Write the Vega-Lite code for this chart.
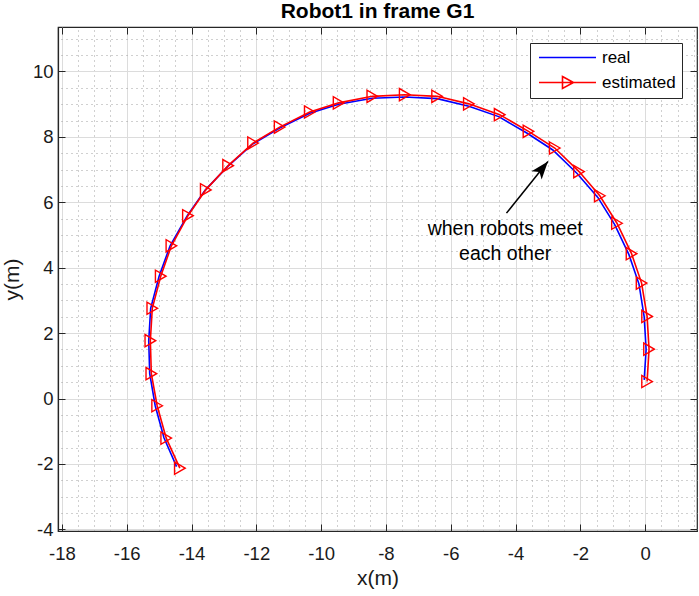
{
  "$schema": "https://vega.github.io/schema/vega-lite/v6.json",
  "width": 639,
  "height": 504,
  "autosize": {"type": "none"},
  "padding": {"left": 58, "top": 27, "right": 2, "bottom": 65},
  "title": {"text": "Robot1 in frame G1", "fontSize": 21, "fontWeight": "bold", "font": "Liberation Sans", "color": "#000000", "anchor": "middle", "offset": 5},
  "config": {
    "font": "Liberation Sans",
    "view": {"stroke": "#262626", "strokeWidth": 1.2}
  },
  "datasets": {
    "real": [
      {"series": "real", "i": 1, "x": -14.46, "y": -2.08},
      {"series": "real", "i": 2, "x": -14.85, "y": -1.2},
      {"series": "real", "i": 3, "x": -15.12, "y": -0.22},
      {"series": "real", "i": 4, "x": -15.29, "y": 0.76},
      {"series": "real", "i": 5, "x": -15.32, "y": 1.77},
      {"series": "real", "i": 6, "x": -15.26, "y": 2.76},
      {"series": "real", "i": 7, "x": -15.0, "y": 3.74},
      {"series": "real", "i": 8, "x": -14.66, "y": 4.67},
      {"series": "real", "i": 9, "x": -14.13, "y": 5.59},
      {"series": "real", "i": 10, "x": -13.57, "y": 6.38},
      {"series": "real", "i": 11, "x": -12.88, "y": 7.1},
      {"series": "real", "i": 12, "x": -12.1, "y": 7.79},
      {"series": "real", "i": 13, "x": -11.28, "y": 8.27},
      {"series": "real", "i": 14, "x": -10.35, "y": 8.72},
      {"series": "real", "i": 15, "x": -9.46, "y": 9.0},
      {"series": "real", "i": 16, "x": -8.42, "y": 9.18},
      {"series": "real", "i": 17, "x": -7.42, "y": 9.22},
      {"series": "real", "i": 18, "x": -6.42, "y": 9.17},
      {"series": "real", "i": 19, "x": -5.44, "y": 8.94},
      {"series": "real", "i": 20, "x": -4.52, "y": 8.62},
      {"series": "real", "i": 21, "x": -3.64, "y": 8.11},
      {"series": "real", "i": 22, "x": -2.85, "y": 7.6},
      {"series": "real", "i": 23, "x": -2.1, "y": 6.88},
      {"series": "real", "i": 24, "x": -1.46, "y": 6.15},
      {"series": "real", "i": 25, "x": -0.94, "y": 5.32},
      {"series": "real", "i": 26, "x": -0.5, "y": 4.4},
      {"series": "real", "i": 27, "x": -0.19, "y": 3.5},
      {"series": "real", "i": 28, "x": -0.03, "y": 2.5},
      {"series": "real", "i": 29, "x": 0.03, "y": 1.5},
      {"series": "real", "i": 30, "x": -0.03, "y": 0.57}
    ],
    "estimated": [
      {"series": "estimated", "i": 1, "x": -14.36, "y": -2.13},
      {"series": "estimated", "i": 2, "x": -14.78, "y": -1.21},
      {"series": "estimated", "i": 3, "x": -15.06, "y": -0.22},
      {"series": "estimated", "i": 4, "x": -15.24, "y": 0.76},
      {"series": "estimated", "i": 5, "x": -15.27, "y": 1.77},
      {"series": "estimated", "i": 6, "x": -15.21, "y": 2.76},
      {"series": "estimated", "i": 7, "x": -14.95, "y": 3.74},
      {"series": "estimated", "i": 8, "x": -14.62, "y": 4.67},
      {"series": "estimated", "i": 9, "x": -14.11, "y": 5.59},
      {"series": "estimated", "i": 10, "x": -13.56, "y": 6.38},
      {"series": "estimated", "i": 11, "x": -12.87, "y": 7.12},
      {"series": "estimated", "i": 12, "x": -12.1, "y": 7.81},
      {"series": "estimated", "i": 13, "x": -11.28, "y": 8.3},
      {"series": "estimated", "i": 14, "x": -10.35, "y": 8.76},
      {"series": "estimated", "i": 15, "x": -9.46, "y": 9.04},
      {"series": "estimated", "i": 16, "x": -8.42, "y": 9.24},
      {"series": "estimated", "i": 17, "x": -7.42, "y": 9.29},
      {"series": "estimated", "i": 18, "x": -6.42, "y": 9.24},
      {"series": "estimated", "i": 19, "x": -5.44, "y": 9.01},
      {"series": "estimated", "i": 20, "x": -4.49, "y": 8.68},
      {"series": "estimated", "i": 21, "x": -3.6, "y": 8.17},
      {"series": "estimated", "i": 22, "x": -2.79, "y": 7.66},
      {"series": "estimated", "i": 23, "x": -2.04, "y": 6.94},
      {"series": "estimated", "i": 24, "x": -1.4, "y": 6.2},
      {"series": "estimated", "i": 25, "x": -0.87, "y": 5.36},
      {"series": "estimated", "i": 26, "x": -0.42, "y": 4.43},
      {"series": "estimated", "i": 27, "x": -0.11, "y": 3.53},
      {"series": "estimated", "i": 28, "x": 0.06, "y": 2.51},
      {"series": "estimated", "i": 29, "x": 0.12, "y": 1.51},
      {"series": "estimated", "i": 30, "x": 0.06, "y": 0.52}
    ],
    "arrow": [
      {"x": -4.28, "y": 5.67, "x2": -3.0, "y2": 7.25}
    ],
    "note": [
      {"x": -4.32, "y": 5.0, "label": "when robots meet\neach other"}
    ]
  },
  "resolve": {"axis": {"x": "independent", "y": "independent"}},
  "layer": [
    {
      "data": {"name": "real"},
      "mark": {"type": "line", "strokeWidth": 1.6},
      "encoding": {
        "x": {"field": "x", "type": "quantitative",
          "scale": {"domain": [-18.12, 1.6], "nice": false, "zero": false},
          "axis": {"orient": "top", "values": [-17.5,-17,-16.5,-15.5,-15,-14.5,-13.5,-13,-12.5,-11.5,-11,-10.5,-9.5,-9,-8.5,-7.5,-7,-6.5,-5.5,-5,-4.5,-3.5,-3,-2.5,-1.5,-1,-0.5,0.5,1,1.5],
            "grid": true, "gridDash": [1, 4], "gridColor": "#a0a0a0", "gridWidth": 1, "labels": false, "ticks": false, "domain": false, "title": null}},
        "y": {"field": "y", "type": "quantitative",
          "scale": {"domain": [-4.05, 11.36], "nice": false, "zero": false},
          "axis": {"orient": "right", "values": [-3.5,-3,-2.5,-1.5,-1,-0.5,0.5,1,1.5,2.5,3,3.5,4.5,5,5.5,6.5,7,7.5,8.5,9,9.5,10.5,11],
            "grid": true, "gridDash": [1, 4], "gridColor": "#a0a0a0", "gridWidth": 1, "labels": false, "ticks": false, "domain": false, "title": null}},
        "order": {"field": "i", "type": "quantitative"},
        "color": {"field": "series", "type": "nominal",
          "scale": {"domain": ["real", "estimated"], "range": ["#0000ff", "#ff0000"]},
          "legend": {
            "orient": "none", "legendX": 472, "legendY": 16, "title": null,
            "strokeColor": "#262626", "fillColor": "#ffffff", "padding": 6,
            "symbolSize": 100, "symbolOffset": 23, "labelOffset": 26, "symbolStrokeWidth": 1.6,
            "rowPadding": 7, "labelFontSize": 17, "labelFont": "Liberation Sans", "labelColor": "#000000",
            "encode": {"symbols": {"update": {
              "shape": {"signal": "datum.value === 'estimated' ? 'M-5.7,0L5.7,0M-1,-1.2L1.2,0L-1,1.2Z' : 'M-5.7,0L5.7,0'"},
              "fill": {"value": "transparent"}
            }}}
          }}
      }
    },
    {
      "data": {"name": "estimated"},
      "mark": {"type": "line", "strokeWidth": 1.6},
      "encoding": {
        "x": {"field": "x", "type": "quantitative",
          "scale": {"domain": [-18.12, 1.6], "nice": false, "zero": false},
          "axis": {"orient": "bottom", "values": [-18,-16,-14,-12,-10,-8,-6,-4,-2,0],
            "labelExpr": "datum.value < 0 ? '-' + abs(datum.value) : '' + datum.value",
            "grid": true, "gridColor": "#dcdcdc", "gridWidth": 1,
            "ticks": true, "tickSize": -7, "tickColor": "#262626", "domain": true, "domainColor": "#262626", "domainWidth": 1.2,
            "labelFontSize": 18.5, "labelColor": "#1a1a1a", "labelPadding": 20, "labelFont": "Liberation Sans",
            "title": "x(m)", "titleFontSize": 21, "titleFontWeight": "normal", "titleColor": "#1a1a1a", "titlePadding": 5, "titleFont": "Liberation Sans"}},
        "y": {"field": "y", "type": "quantitative",
          "scale": {"domain": [-4.05, 11.36], "nice": false, "zero": false},
          "axis": {"orient": "left", "values": [-4,-2,0,2,4,6,8,10],
            "labelExpr": "datum.value < 0 ? '-' + abs(datum.value) : '' + datum.value",
            "grid": true, "gridColor": "#dcdcdc", "gridWidth": 1,
            "ticks": true, "tickSize": -7, "tickColor": "#262626", "domain": true, "domainColor": "#262626", "domainWidth": 1.2,
            "labelFontSize": 18.5, "labelColor": "#1a1a1a", "labelPadding": 12, "labelFont": "Liberation Sans",
            "title": "y(m)", "titleFontSize": 21, "titleFontWeight": "normal", "titleColor": "#1a1a1a", "titlePadding": 10, "titleFont": "Liberation Sans"}},
        "order": {"field": "i", "type": "quantitative"},
        "color": {"field": "series", "type": "nominal",
          "scale": {"domain": ["real", "estimated"], "range": ["#0000ff", "#ff0000"]}}
      }
    },
    {
      "data": {"name": "estimated"},
      "mark": {"type": "point", "shape": "triangle-right", "filled": false, "stroke": "#ff0000", "strokeWidth": 1.4, "size": 150, "opacity": 1},
      "encoding": {
        "x": {"field": "x", "type": "quantitative",
          "scale": {"domain": [-18.12, 1.6], "nice": false, "zero": false},
          "axis": {"orient": "top", "values": [-18,-16,-14,-12,-10,-8,-6,-4,-2,0], "grid": false, "labels": false, "ticks": true, "tickSize": -7, "tickColor": "#262626", "domain": false, "title": null}},
        "y": {"field": "y", "type": "quantitative",
          "scale": {"domain": [-4.05, 11.36], "nice": false, "zero": false},
          "axis": {"orient": "right", "values": [-4,-2,0,2,4,6,8,10], "grid": false, "labels": false, "ticks": true, "tickSize": -7, "tickColor": "#262626", "domain": false, "title": null}}
      }
    },
    {
      "data": {"name": "arrow"},
      "mark": {"type": "rule", "color": "#000000", "strokeWidth": 1.5},
      "encoding": {
        "x": {"field": "x", "type": "quantitative", "scale": {"domain": [-18.12, 1.6], "nice": false, "zero": false}, "axis": null},
        "y": {"field": "y", "type": "quantitative", "scale": {"domain": [-4.05, 11.36], "nice": false, "zero": false}, "axis": null},
        "x2": {"field": "x2"},
        "y2": {"field": "y2"}
      }
    },
    {
      "data": {"name": "arrow"},
      "mark": {"type": "point", "shape": "M0,0L0.36,1L0,0.75L-0.36,1Z", "filled": true, "color": "#000000", "size": 1296, "opacity": 1, "angle": 39},
      "encoding": {
        "x": {"field": "x2", "type": "quantitative", "scale": {"domain": [-18.12, 1.6], "nice": false, "zero": false}, "axis": null},
        "y": {"field": "y2", "type": "quantitative", "scale": {"domain": [-4.05, 11.36], "nice": false, "zero": false}, "axis": null}
      }
    },
    {
      "data": {"name": "note"},
      "mark": {"type": "text", "align": "center", "baseline": "alphabetic", "fontSize": 19.5, "font": "Liberation Sans", "color": "#000000", "lineHeight": 25, "lineBreak": "\n"},
      "encoding": {
        "x": {"field": "x", "type": "quantitative", "scale": {"domain": [-18.12, 1.6], "nice": false, "zero": false}, "axis": null},
        "y": {"field": "y", "type": "quantitative", "scale": {"domain": [-4.05, 11.36], "nice": false, "zero": false}, "axis": null},
        "text": {"field": "label"}
      }
    }
  ]
}
